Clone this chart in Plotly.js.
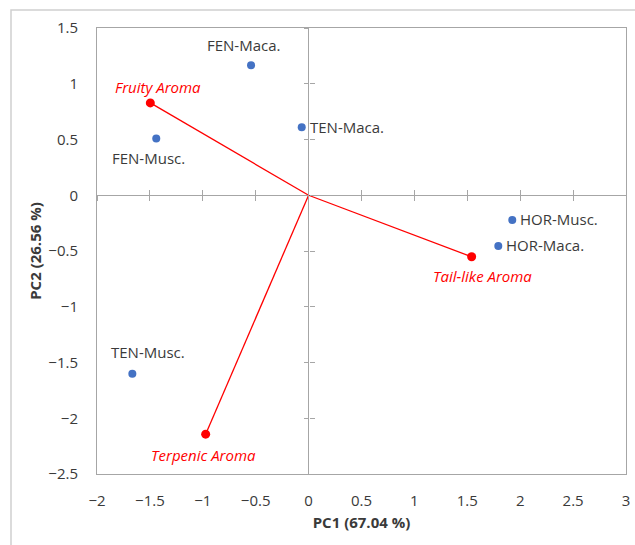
<!DOCTYPE html>
<html>
<head>
<meta charset="utf-8">
<script src="https://cdn.plot.ly/plotly-3.0.1.min.js"></script>
<style>html,body{margin:0;padding:0;background:#fff;}#chart{width:635px;height:545px;}</style>
</head>
<body>
<div id="chart"></div>
<script>
// Sample scores (blue points)
const sampleNames = ["FEN-Maca.", "FEN-Musc.", "TEN-Maca.", "HOR-Musc.", "HOR-Maca.", "TEN-Musc."];
const sampleX = [-0.544, -1.44, -0.065, 1.925, 1.793, -1.666];
const sampleY = [1.166, 0.509, 0.61, -0.223, -0.456, -1.60];

// Loadings (red vectors from origin)
const loadingNames = ["Fruity Aroma", "Tail-like Aroma", "Terpenic Aroma"];
const loadingX = [-1.496, 1.541, -0.973];
const loadingY = [0.828, -0.552, -2.143];

// Axis settings
const xTitle = "PC1 (67.04 %)";
const yTitle = "PC2 (26.56 %)";
const xRange = [-2, 3];
const yRange = [-2.5, 1.5];

// label placement styling (pixel offsets, kept separate from data)
const sampleLabelStyle = [
  {xs: -8, ys: 20, anchor: "center"},
  {xs: -8, ys: -19, anchor: "center"},
  {xs: 6, ys: 0, anchor: "left"},
  {xs: 6, ys: 1, anchor: "left"},
  {xs: 6, ys: 1, anchor: "left"},
  {xs: 16, ys: 22, anchor: "center"}
];
const loadingLabelStyle = [
  {xs: 8, ys: 16, anchor: "center"},
  {xs: 11, ys: -19, anchor: "center"},
  {xs: -2, ys: -21, anchor: "center"}
];

const BLUE = "#4472C4";
const RED = "#FF0000";
const GRAY = "#A6A6A6";
const TXT = "#3A3A3A";
const FONT = "Open Sans, Liberation Sans, sans-serif";
const FS = 15;

const traces = [];
// red vector lines
for (let i = 0; i < loadingNames.length; i++) {
  traces.push({
    type: "scatter", mode: "lines",
    x: [0, loadingX[i]], y: [0, loadingY[i]],
    line: {color: RED, width: 1.3},
    hoverinfo: "skip", showlegend: false
  });
}
traces.push({
  type: "scatter", mode: "markers",
  x: loadingX, y: loadingY, text: loadingNames,
  marker: {color: RED, size: 9},
  showlegend: false
});
traces.push({
  type: "scatter", mode: "markers",
  x: sampleX, y: sampleY, text: sampleNames,
  marker: {color: BLUE, size: 8},
  showlegend: false
});
// dummy traces for the tick-only overlay axes
traces.push({type: "scatter", x: [null], y: [null], xaxis: "x2", yaxis: "y2", showlegend: false, hoverinfo: "skip"});
traces.push({type: "scatter", x: [null], y: [null], xaxis: "x3", yaxis: "y3", showlegend: false, hoverinfo: "skip"});

const annotations = [];
sampleNames.forEach((n, i) => {
  const s = sampleLabelStyle[i];
  annotations.push({
    x: sampleX[i], y: sampleY[i], xref: "x", yref: "y", text: n, showarrow: false,
    xanchor: s.anchor, yanchor: "middle", xshift: s.xs, yshift: s.ys,
    font: {family: FONT, size: FS, color: TXT}
  });
});
loadingNames.forEach((n, i) => {
  const s = loadingLabelStyle[i];
  annotations.push({
    x: loadingX[i], y: loadingY[i], xref: "x", yref: "y", text: "<i>" + n + "</i>", showarrow: false,
    xanchor: s.anchor, yanchor: "middle", xshift: s.xs, yshift: s.ys,
    font: {family: FONT, size: FS, color: RED}
  });
});

const xZeroFrac = (0 - yRange[0]) / (yRange[1] - yRange[0]);
const yZeroFrac = (0 - xRange[0]) / (xRange[1] - xRange[0]);

const tickAxisX = (ticks) => ({
  overlaying: "x", anchor: "free", position: xZeroFrac, range: xRange,
  dtick: 0.5, tick0: 0, ticks: ticks, ticklen: 5, tickcolor: GRAY, tickwidth: 1,
  showticklabels: false, showgrid: false, zeroline: false, showline: false, fixedrange: true
});
const tickAxisY = (ticks) => ({
  overlaying: "y", anchor: "free", position: yZeroFrac, range: yRange,
  dtick: 0.5, tick0: 0, ticks: ticks, ticklen: 5, tickcolor: GRAY, tickwidth: 1,
  showticklabels: false, showgrid: false, zeroline: false, showline: false, fixedrange: true
});

const layout = {
  width: 635, height: 545,
  margin: {l: 97, r: 9, t: 28, b: 71},
  paper_bgcolor: "#fff", plot_bgcolor: "#fff",
  font: {family: FONT, color: TXT},
  showlegend: false,
  xaxis: {
    range: xRange, dtick: 0.5, tick0: 0, showgrid: false,
    zeroline: true, zerolinecolor: GRAY, zerolinewidth: 1,
    showline: true, mirror: true, linecolor: GRAY, linewidth: 1,
    ticks: "", ticklabelstandoff: 13,
    tickfont: {family: FONT, size: FS, color: TXT},
    title: {text: "<b>" + xTitle + "</b>", font: {family: FONT, size: FS, color: TXT}, standoff: 8}
  },
  yaxis: {
    range: yRange, dtick: 0.5, tick0: 0, showgrid: false,
    zeroline: true, zerolinecolor: GRAY, zerolinewidth: 1,
    showline: true, mirror: true, linecolor: GRAY, linewidth: 1,
    ticks: "", ticklabelstandoff: 15,
    tickfont: {family: FONT, size: FS, color: TXT},
    title: {text: "<b>" + yTitle + "</b>", font: {family: FONT, size: FS, color: TXT}, standoff: 3}
  },
  xaxis2: tickAxisX("outside"),
  yaxis2: tickAxisY("outside"),
  xaxis3: tickAxisX("inside"),
  yaxis3: tickAxisY("inside"),
  annotations: annotations,
  shapes: [{
    type: "rect", xref: "paper", yref: "paper",
    x0: -86 / 529, x1: 1.2, y0: -0.3, y1: 1 + 18 / 446,
    line: {color: "#D0D0D0", width: 1.5}, fillcolor: "rgba(0,0,0,0)", layer: "below"
  }]
};

Plotly.newPlot("chart", traces, layout, {displayModeBar: false, staticPlot: true});
</script>
</body>
</html>
